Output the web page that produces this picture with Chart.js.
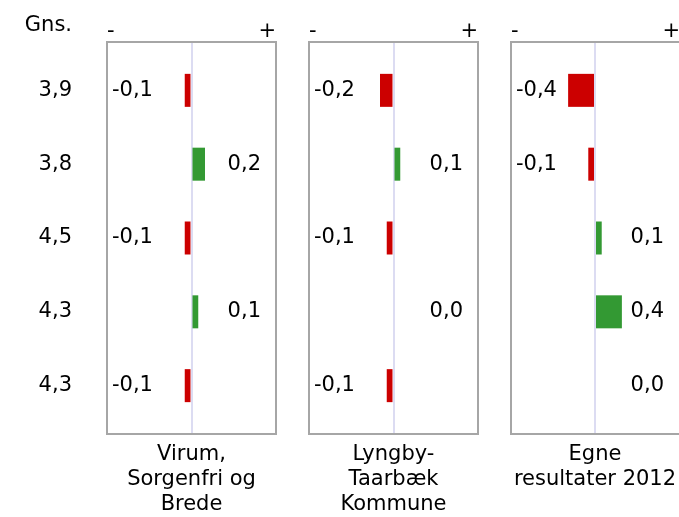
<!DOCTYPE html>
<html>
<head>
<meta charset="utf-8">
<script src="https://cdn.jsdelivr.net/npm/chart.js@4.4.0/dist/chart.umd.min.js"></script>
<style>
  body { margin: 0; background: #fff; }
  #wrap { position: relative; width: 679px; height: 517px; overflow: hidden; }
  #wrap canvas { position: absolute; left: 0; top: 0; }
</style>
</head>
<body>
<div id="wrap">
  <canvas id="c1" width="679" height="517"></canvas>
  <canvas id="c2" width="679" height="517"></canvas>
  <canvas id="c3" width="679" height="517"></canvas>
</div>
<script>
// row averages (left column) and header
var gnsHeader = 'Gns.';
var gns = ['3,9', '3,8', '4,5', '4,3', '4,3'];
var ends = ['-', '+'];

// differences per panel
var virum = [-0.1, 0.2, -0.1, 0.1, -0.1];
var lyngby = [-0.2, 0.1, -0.1, 0.0, -0.1];
var egne = [-0.4, -0.1, 0.1, 0.4, 0.0];

var panelTitles = [
  ['Virum,', 'Sorgenfri og', 'Brede'],
  ['Lyngby-', 'Taarbæk', 'Kommune'],
  ['Egne', 'resultater 2012']
];

var FONT = 'DejaVu Sans, Verdana, sans-serif';
var FS = 21;
var RED = '#cc0000';
var GREEN = '#339933';

Chart.defaults.font.family = FONT;
Chart.defaults.font.size = FS;
Chart.defaults.color = '#000';

var panelPlugin = {
  id: 'panel',
  afterDraw: function(chart) {
    var ctx = chart.ctx;
    var a = chart.chartArea;
    var opts = chart.options.plugins.panel;
    ctx.save();
    // box (last panel runs off the right edge)
    ctx.strokeStyle = '#a6a6a6';
    ctx.lineWidth = 2;
    ctx.beginPath();
    if (opts.openRight) {
      ctx.moveTo(chart.width, a.top);
      ctx.lineTo(a.left, a.top);
      ctx.lineTo(a.left, a.bottom);
      ctx.lineTo(chart.width, a.bottom);
    } else {
      ctx.rect(a.left, a.top, a.right - a.left, a.bottom - a.top);
    }
    ctx.stroke();
    // - and + markers
    ctx.fillStyle = '#000';
    ctx.font = FS + 'px ' + FONT;
    ctx.textBaseline = 'alphabetic';
    ctx.textAlign = 'left';
    ctx.fillText(ends[0], a.left, 37);
    ctx.textAlign = 'right';
    ctx.fillText(ends[1], opts.openRight ? a.right + 1 : a.right, 37);
    if (opts.header) {
      ctx.textAlign = 'right';
      ctx.fillText(gnsHeader, 72, 31);
    }
    // value labels
    var meta = chart.getDatasetMeta(0);
    var vals = chart.data.datasets[0].data;
    ctx.textBaseline = 'middle';
    meta.data.forEach(function(bar, i) {
      var v = vals[i].x;
      var txt = v.toFixed(1).replace('.', ',');
      if (v < 0) {
        ctx.textAlign = 'left';
        ctx.fillText(txt, a.left + 5, bar.y);
      } else {
        ctx.textAlign = 'right';
        ctx.fillText(txt, a.right - 15, bar.y);
      }
    });
    ctx.restore();
  }
};

function makePanel(id, values, title, left, right, first, openRight) {
  var lines = title.length;
  return new Chart(document.getElementById(id), {
    type: 'bar',
    data: {
      datasets: [{
        data: values.map(function(v, i) { return {x: v, y: i}; }),
        backgroundColor: function(c) { return c.raw && c.raw.x < 0 ? RED : GREEN; },
        barThickness: 33,
        borderWidth: 0,
        inflateAmount: 0
      }]
    },
    options: {
      responsive: false,
      animation: false,
      indexAxis: 'y',
      devicePixelRatio: 1,
      layout: { padding: { left: first ? 0 : left, right: 679 - right, top: 42, bottom: 0 } },
      plugins: {
        legend: { display: false },
        tooltip: { enabled: false },
        panel: { header: first, openRight: openRight }
      },
      scales: {
        x: {
          type: 'linear',
          min: -1.25,
          max: 1.25,
          offset: false,
          border: { display: false },
          ticks: { display: false },
          grid: {
            drawTicks: false,
            offset: false,
            lineWidth: 2,
            color: function(c) { return c.tick && c.tick.value === 0 ? '#dcdcf2' : 'rgba(0,0,0,0)'; }
          },
          title: {
            display: true,
            text: title,
            color: '#000',
            font: { size: FS, lineHeight: '25px' },
            padding: { top: 8, bottom: (3 - lines) * 25 }
          }
        },
        y: {
          type: 'linear',
          reverse: true,
          offset: false,
          min: -0.655,
          max: 4.655,
          display: first,
          border: { display: false },
          grid: { display: false, drawTicks: false, offset: false },
          afterBuildTicks: function(s) {
            s.ticks = gns.map(function(g, i) { return {value: i}; });
          },
          afterFit: function(s) {
            if (first) s.width = left;
            s.paddingTop = 0;
            s.paddingBottom = 0;
          },
          ticks: {
            padding: 35,
            color: '#000',
            font: { size: FS },
            callback: function(v) { return gns[v]; }
          }
        }
      }
    },
    plugins: [panelPlugin]
  });
}

makePanel('c1', virum, panelTitles[0], 107, 276, true, false);
makePanel('c2', lyngby, panelTitles[1], 309, 478, false, false);
makePanel('c3', egne, panelTitles[2], 511, 679, false, true);
</script>
</body>
</html>
